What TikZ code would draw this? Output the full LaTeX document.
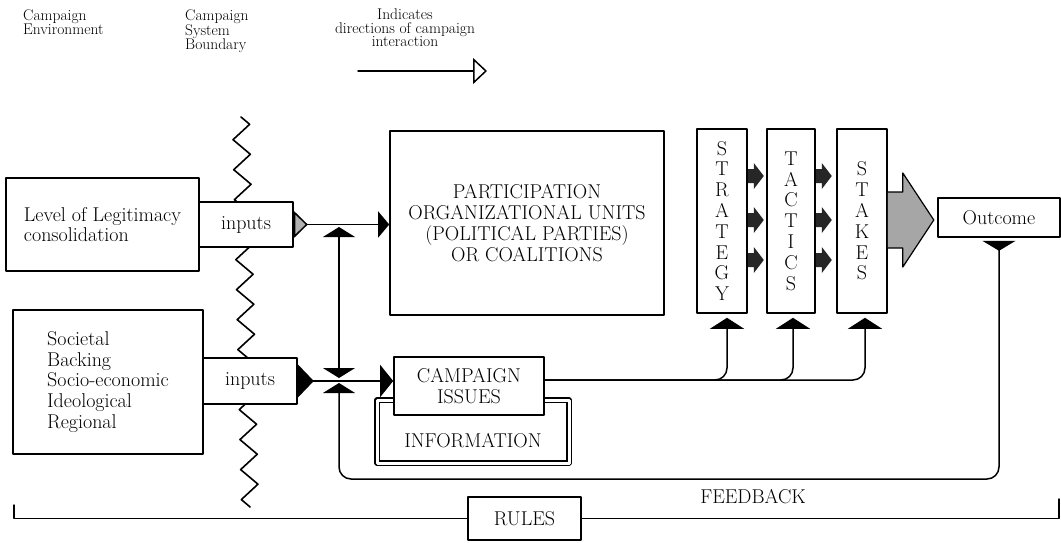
\documentclass[tikz,border=0pt]{standalone}
\usepackage{fontspec}
\usetikzlibrary{arrows.meta,decorations.pathmorphing,calc,positioning}

\newcommand{\diagfont}{\fontsize{20}{20.8}\selectfont}
\newcommand{\keyfont}{\fontsize{15.5}{13.5}\selectfont}

\tikzset{
  box/.style={draw, line width=1.6pt, fill=white, inner sep=0pt, font=\diagfont},
  tall/.style={box, minimum height=184pt, align=center},
  keytext/.style={inner sep=0pt, font=\keyfont},
  flow/.style={line width=1.5pt},
  blockfill/.style={fill=black!85},
}

\begin{document}
\begin{tikzpicture}[x=1pt, y=-1pt, line join=round, line cap=round]
\useasboundingbox (0,0) rectangle (1061,542);

% key
\node[keytext, anchor=north west, align=left] (env) at (23,9) {Campaign\\Environment};
\node[keytext, anchor=north west, align=left] (sysb) at (185,9) {Campaign\\System\\Boundary};
\node[keytext, anchor=north, align=center] (ind) at (405,9) {Indicates\\directions of campaign\\interaction};
\path (358,71) coordinate (ka) (487,71) coordinate (kb);
\draw[flow, -{Triangle[open, length=14pt, width=26pt]}] (ka) -- (kb);

% system boundary
\path (241,117) coordinate (zt) (250,507) coordinate (zb);
\draw[line width=1.6pt, decorate, decoration={zigzag, segment length=30pt, amplitude=8.5pt}] (zt) -- (zb);

% environment and inputs
\node[box, minimum width=193pt, minimum height=93pt, align=left] (level) at (102.5,224.5) {Level of Legitimacy\\consolidation};
\node[box, minimum width=94pt, minimum height=45pt] (in1) at (246,224.5) {inputs};
\node[box, minimum width=190pt, minimum height=144pt, align=left] (soc) at (108,382) {Societal\\Backing\\Socio-economic\\Ideological\\Regional};
\node[box, minimum width=94pt, minimum height=46pt] (in2) at (250,381) {inputs};

% system
\node[box, minimum width=274pt, minimum height=184pt, align=center] (part) at (527,223) {PARTICIPATION\\ORGANIZATIONAL UNITS\\(POLITICAL PARTIES)\\OR COALITIONS};
\node[box, double, double distance=3pt, line width=1.3pt, minimum width=192pt, minimum height=63pt] (info) at (473,431.5) {};
\node[font=\diagfont] (infotxt) at ($(info.center)+(0,9.5)$) {INFORMATION};
\node[box, minimum width=150pt, minimum height=58pt, align=center] (issues) at (469,386) {CAMPAIGN\\ISSUES};
\node[tall, minimum width=50pt] (strategy) at (722,221) {S\\T\\R\\A\\T\\E\\G\\Y};
\node[tall, minimum width=48pt] (tactics) at (791,221) {T\\A\\C\\T\\I\\C\\S};
\node[tall, minimum width=50pt] (stakes) at (862,221) {S\\T\\A\\K\\E\\S};
\node[box, minimum width=122pt, minimum height=39pt] (outcome) at (999,217.5) {Outcome};
\node[box, minimum width=113pt, minimum height=43pt] (rules) at (524.5,518.5) {RULES};

% connectors
\draw[flow, {Triangle[reversed, length=14pt, width=27pt, fill=gray!60]}-{Triangle[length=11pt, width=26pt]}] (in1.east) -- (part.west |- in1.east);
\draw[flow, {Triangle[reversed, length=16pt, width=33pt]}-{Triangle[length=13pt, width=32pt]}] (in2.east) -- (issues.west |- in2.east);
\path (339,227) coordinate (vtop) (339,378) coordinate (vbot) (339,383) coordinate (fbend);
\draw[flow, {Triangle[length=10pt, width=32pt]}-{Triangle[length=10pt, width=32pt]}] (vtop) -- (vbot);
\draw[flow, rounded corners=12pt, {Triangle[reversed, length=10pt, width=33pt]}-{Triangle[length=10pt, width=32pt]}] ($(outcome.south)+(0,3)$) |- (339,479) -- (fbend);
\node[font=\diagfont] (fbtext) at (753,497) {FEEDBACK};

\foreach \t/\dx in {strategy/5,tactics/2,stakes/3}
  \draw[flow, rounded corners=12pt, -{Triangle[length=11pt, width=34pt]}] (issues.east |- 0,380) -| ($(\t.south)+(\dx,4)$);

\foreach \a in {strategy,tactics}
  \foreach \y in {176,220,260}
    \fill[blockfill] (\a.east |- 0,\y) -- ++(0,-7) -- ++(6,0) -- ++(0,-6) -- ++(10,13) -- ++(-10,13) -- ++(0,-6) -- ++(-6,0) -- cycle;
\filldraw[fill=gray!70, line width=1.2pt] (stakes.east |- 0,192) -- ++(15,0) -- ++(0,-19) -- ++(31,47) -- ++(-31,47) -- ++(0,-19) -- ++(-15,0);

% rules
\path (14,505) coordinate (rl) (1059,499) coordinate (rr);
\draw[flow] (rl) |- (rules.west);
\draw[flow] (rules.east) -| (rr);
\end{tikzpicture}
\end{document}
